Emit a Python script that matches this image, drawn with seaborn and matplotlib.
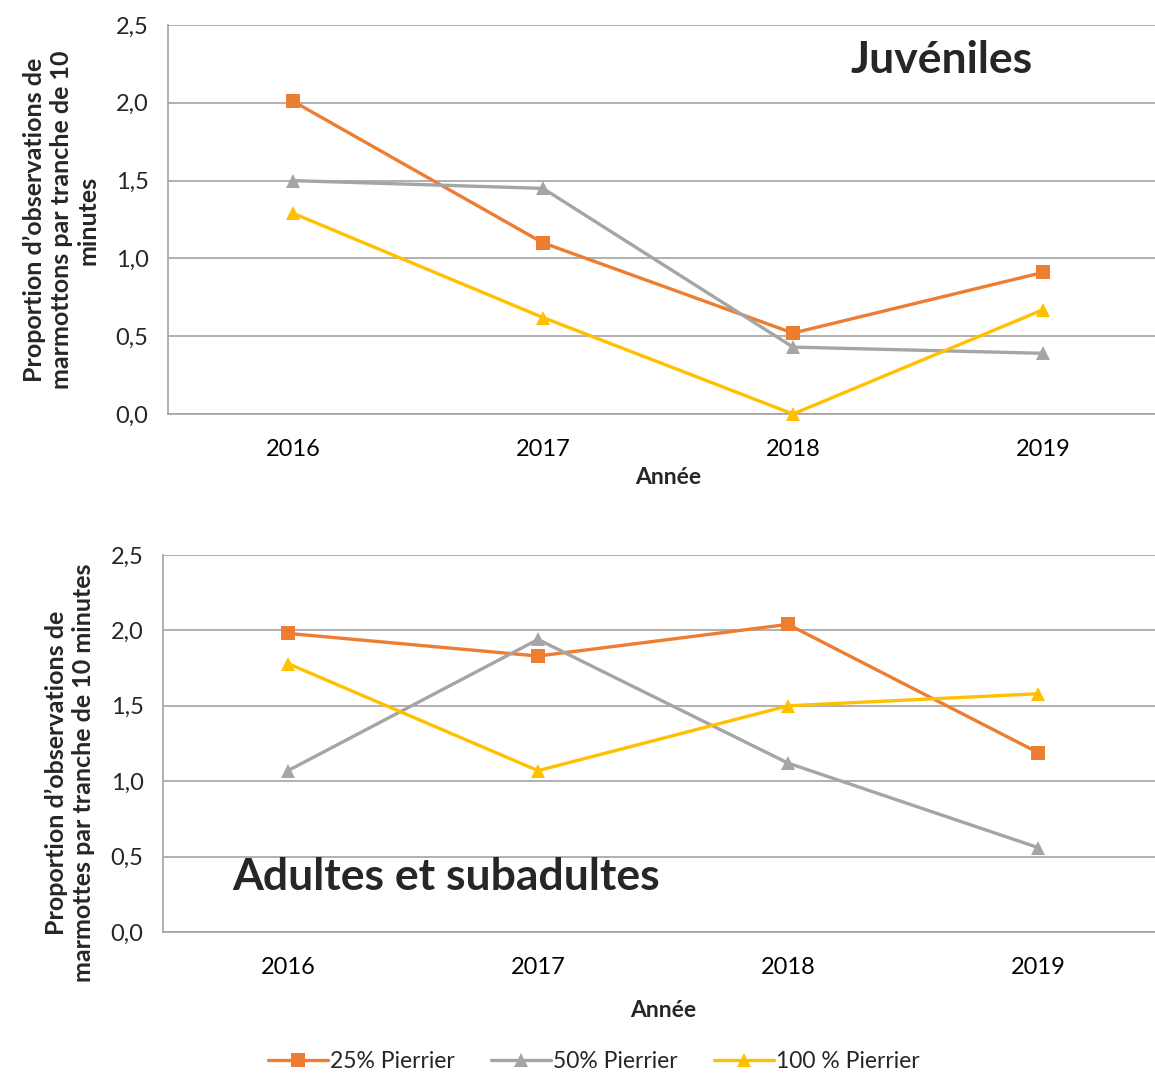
import matplotlib
matplotlib.use("Agg")
import matplotlib.pyplot as plt
import seaborn as sns
import pandas as pd
import numpy as np

years = [2016, 2017, 2018, 2019]
series = ["25% Pierrier", "50% Pierrier", "100 % Pierrier"]

juv_25 = [2.01, 1.10, 0.52, 0.91]
juv_50 = [1.50, 1.45, 0.43, 0.39]
juv_100 = [1.29, 0.62, 0.00, 0.67]

ad_25 = [1.98, 1.83, 2.04, 1.19]
ad_50 = [1.07, 1.94, 1.12, 0.56]
ad_100 = [1.78, 1.07, 1.50, 1.58]

ytick_labels = ["0,0", "0,5", "1,0", "1,5", "2,0", "2,5"]
ytick_vals = [0, 0.5, 1.0, 1.5, 2.0, 2.5]

colors = {"25% Pierrier": "#ED7D31", "50% Pierrier": "#A5A5A5", "100 % Pierrier": "#FFC000"}
markers = {"25% Pierrier": "s", "50% Pierrier": "^", "100 % Pierrier": "^"}

def make_df(a, b, c):
    rows = []
    for name, vals in zip(series, [a, b, c]):
        for y, v in zip(years, vals):
            rows.append({"Année": y, "val": v, "Série": name})
    return pd.DataFrame(rows)

df_juv = make_df(juv_25, juv_50, juv_100)
df_ad = make_df(ad_25, ad_50, ad_100)

sns.set_style("white")
plt.rcParams["font.family"] = ["Lato", "DejaVu Sans"]

W, H = 1155, 1074
fig = plt.figure(figsize=(W / 100, H / 100), dpi=100)

def px_axes(left, top, right, bottom):
    return fig.add_axes([left / W, 1 - bottom / H, (right - left) / W, (bottom - top) / H])

ax1 = px_axes(168, 25, 1168, 414)
ax2 = px_axes(163, 555, 1163, 932)

grid_c = "#A3A3A3"

def style(ax, df, ylabel, lab_xy, xlabelpad):
    sns.lineplot(data=df, x="Année", y="val", hue="Série", style="Série",
                 palette=colors, markers=markers, dashes=False,
                 linewidth=2.4, markersize=10.5, markeredgewidth=0,
                 ax=ax, legend=True, zorder=3)
    ax.set_xlim(2015.5, 2019.5)
    ax.set_ylim(0, 2.5)
    ax.set_yticks(ytick_vals)
    ax.set_yticklabels(ytick_labels)
    ax.set_xticks(years)
    ax.set_xticklabels([str(y) for y in years])
    ax.set_xticks([2015.5, 2016.5, 2017.5, 2018.5, 2019.5], minor=True)
    ax.tick_params(axis="x", which="major", length=0, labelsize=17, pad=18, colors="black")
    ax.tick_params(axis="x", which="minor", length=8, color=grid_c, width=1.2)
    ax.tick_params(axis="y", which="major", length=8, color=grid_c, width=1.2, labelsize=17, pad=6)
    ax.yaxis.grid(True, color=grid_c, linewidth=1.2)
    ax.set_axisbelow(True)
    for s in ["top", "right"]:
        ax.spines[s].set_visible(False)
    for s in ["left", "bottom"]:
        ax.spines[s].set_color(grid_c)
        ax.spines[s].set_linewidth(1.2)
    ax.set_xlabel("Année", fontsize=16.5, fontweight="bold", labelpad=xlabelpad)
    ax.set_ylabel(ylabel, fontsize=18, fontweight="bold", linespacing=1.2,
                  va="center", ha="center", multialignment="center")
    ax.yaxis.set_label_coords(*lab_xy)
    for l in ax.get_lines():
        l.set_clip_on(False)

style(ax1, df_juv, "Proportion d\u2019observations de\nmarmottons par tranche de 10\nminutes",
      ((61 - 168) / 1000, (414 - 220) / 389), 5)
style(ax2, df_ad, "Proportion d\u2019observations de\nmarmottes par tranche de 10 minutes",
      ((70 - 163) / 1000, (932 - 773) / 377), 16)

handles, labels = ax1.get_legend_handles_labels()
ax1.get_legend().remove()
ax2.get_legend().remove()

ax1.text((850 - 168) / 1000, (414 - 60) / 389, "Juvéniles", transform=ax1.transAxes, fontsize=32,
         fontweight="bold", ha="left", va="center")
ax2.text((232 - 163) / 1000, (932 - 877) / 377, "Adultes et subadultes", transform=ax2.transAxes,
         fontsize=32, fontweight="bold", ha="left", va="center")

leg = fig.legend(handles, labels, loc="center", bbox_to_anchor=(594 / W, 1 - 1062 / H),
                 ncol=3, frameon=False, fontsize=16.5, handlelength=2.6,
                 handletextpad=0.1, columnspacing=1.6)

fig.savefig("out.png", dpi=100)
